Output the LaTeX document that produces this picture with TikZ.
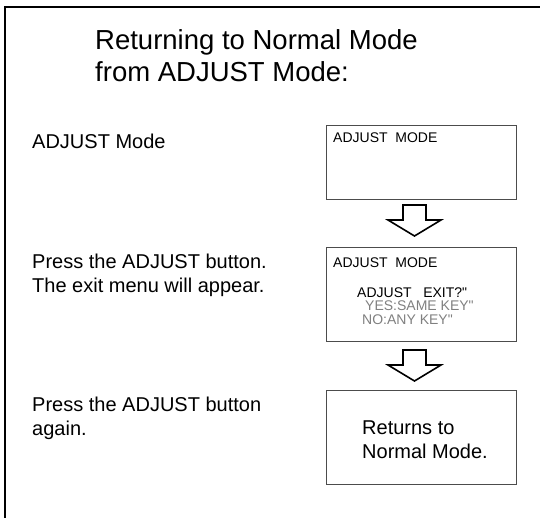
\documentclass[tikz,border=0pt]{standalone}
\usepackage{fontspec}
\setmainfont{Liberation Sans}
\begin{document}
\begin{tikzpicture}[x=1pt,y=-1pt,
    screen/.style={draw=black!70,line width=0.9pt,minimum width=190pt,inner sep=0pt},
    step text/.style={anchor=base west,inner sep=0pt,align=left,font=\fontsize{20}{24}\selectfont},
    lcd/.style={anchor=base west,inner sep=0pt,font=\fontsize{14}{14}\selectfont},
    lcd dim/.style={lcd,text=black!50}]
    \useasboundingbox (0,0) rectangle (540,517);
    % --- OUTER FRAME AND TITLE ---
    \draw[line width=2pt] (5,540) -- (5,7) -- (560,7);
    \node[step text,font=\fontsize{27.5}{32}\selectfont] (title) at (95,81) {Returning to Normal Mode\\from ADJUST Mode:};
    % --- LEFT COLUMN ---
    \node[step text] (stepA) at (32,148) {ADJUST Mode};
    \node[step text] (stepB) at (32,292) {Press the ADJUST button.\\The exit menu will appear.};
    \node[step text] (stepC) at (32,435) {Press the ADJUST button\\again.};
    % --- SCREENS (RIGHT) ---
    \node[screen,minimum height=74pt] (screenA) at (421,162) {};
    \node[screen,minimum height=94pt] (screenB) at (421,294) {};
    \node[screen,minimum height=94pt] (screenC) at (421,437) {};
    \node[lcd] (modeA) at (333,142) {ADJUST\ \ MODE};
    \node[lcd] (modeB) at (333,267) {ADJUST\ \ MODE};
    \node[lcd] (exitB) at (357,297) {ADJUST\ \ \ EXIT?\textquotedbl};
    \node[lcd dim] (yesB) at (365,310) {YES:SAME KEY\textquotedbl};
    \node[lcd dim] (noB) at (362,324) {NO:ANY KEY\textquotedbl};
    \node[step text] (normalC) at (362,458) {Returns to\\Normal Mode.};
    % --- BLOCK ARROWS ---
    \def\downArrow{(-11.5,0) -- (11.5,0) -- (11.5,15) -- (26.5,15) -- (0,31) -- (-26.5,15) -- (-11.5,15) -- cycle};
    \draw[line width=1.6pt,line join=miter,fill=white,shift={(414.5,205)}] \downArrow;
    \draw[line width=1.6pt,line join=miter,fill=white,shift={(414.5,350)}] \downArrow;
\end{tikzpicture}
\end{document}
